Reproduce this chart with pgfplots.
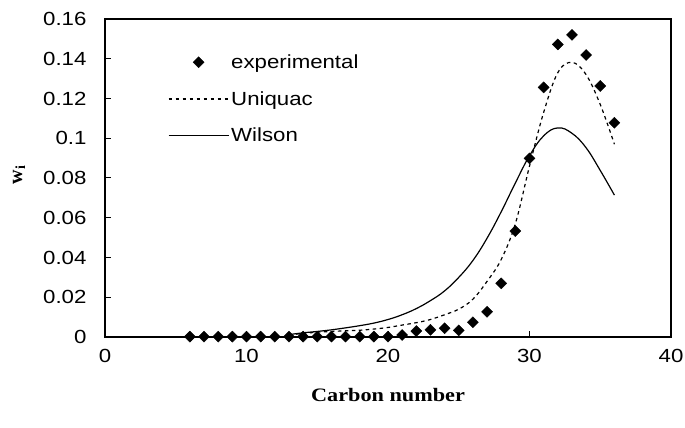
\documentclass[border=0pt]{standalone}
\usepackage{fontspec}
\setmainfont{Liberation Sans}[FakeStretch=1.17]
\newfontfamily\serifwide{Liberation Serif}[FakeStretch=1.17]
\newfontfamily\serifbf{Liberation Serif}
\usepackage{pgfplots}
\pgfplotsset{compat=1.18}
\pgfplotsset{
  lineleg/.style={legend image code/.code={\draw[##1] (0pt,0pt) -- (60pt,0pt);}},
  markleg/.style={legend image code/.code={%
    \draw[mark repeat=2, mark phase=2, ##1] plot coordinates {(0pt,0pt) (30pt,0pt) (60pt,0pt)};}},
}

\begin{document}
\begin{tikzpicture}
\begin{axis}[
  at={(0pt,0pt)}, anchor=origin,
  scale only axis,
  width=566pt, height=318pt,
  xmin=0, xmax=40, ymin=0, ymax=0.16,
  xtick={0,10,20,30,40},
  ytick={0,0.02,0.04,0.06,0.08,0.1,0.12,0.14,0.16},
  scaled y ticks=false,
  yticklabel style={/pgf/number format/fixed, /pgf/number format/precision=2, xshift=-15pt},
  xticklabel style={yshift=-9pt},
  /pgf/number format/assume math mode=true,
  tick label style={font=\fontsize{19}{22}\selectfont},
  tick align=inside,
  xtick pos=left, ytick pos=left,
  major tick length=6pt,
  axis line style={line width=1.1pt},
  tick style={line width=1pt, black},
  xlabel={Carbon number},
  ylabel={w\textsubscript{i}},
  xlabel style={at={(axis description cs:0.5,-0.182)}, anchor=center,
    font=\serifwide\bfseries\fontsize{19}{22}\selectfont},
  ylabel style={at={(axis description cs:-0.152,0.51)}, anchor=center,
    font=\serifbf\bfseries\fontsize{20}{22}\selectfont},
  legend style={draw=none, fill=none, at={(rel axis cs:0.111,0.895)}, anchor=north west,
    font=\fontsize{19}{22}\selectfont, row sep=17.5pt, inner sep=0pt,
    nodes={inner sep=2pt}},
  legend cell align=left,
]
% measured mass fractions
\addplot[only marks, mark=square*, mark size=3.9pt, mark options={rotate=45, fill=black}, markleg]
coordinates {
 (6,0.0002) (7,0.0002) (8,0.0002) (9,0.0002) (10,0.0002) (11,0.0002) (12,0.0002)
 (13,0.0002) (14,0.0002) (15,0.0002) (16,0.0002) (17,0.0002) (18,0.0002) (19,0.0002)
 (20,0.0002) (21,0.0010) (22,0.0030) (23,0.0036) (24,0.0044) (25,0.0033)
 (26,0.0074) (27,0.0127) (28,0.0270) (29,0.0533) (30,0.0899) (31,0.1256)
 (32,0.1472) (33,0.1520) (34,0.1419) (35,0.1263) (36,0.1078)
};
\addlegendentry{experimental}
% UNIQUAC model
\addplot[black, line width=1.2pt, dash pattern=on 3.5pt off 3.5pt, smooth, tension=0.6, lineleg]
coordinates {
 (13,0.0010) (14,0.0018) (15,0.0024) (16,0.0028) (17,0.0031) (18,0.0034)
 (19,0.0040) (20,0.0048) (21,0.0060) (22,0.0072) (23,0.0088) (24,0.0112)
 (25,0.0140) (26,0.0190) (27,0.0280) (28,0.0390) (29,0.0570) (30,0.0860)
 (31,0.1130) (32,0.1330) (33,0.1382) (34,0.1320) (35,0.1170) (36,0.0970)
};
\addlegendentry{Uniquac}
% Wilson model
\addplot[black, line width=1.2pt, smooth, tension=0.7, lineleg]
coordinates {
 (13,0.0012) (14,0.0021) (15,0.0028) (16,0.0036) (17,0.0046) (18,0.0057)
 (19,0.0070) (20,0.0088) (21,0.0112) (22,0.0143) (23,0.0183) (24,0.0232)
 (25,0.0300) (26,0.0385) (27,0.0497) (28,0.0630) (29,0.0775) (30,0.0912)
 (31,0.1012) (32,0.1052) (33,0.1025) (34,0.0952) (35,0.0838) (36,0.0714)
};
\addlegendentry{Wilson}
\end{axis}
\pgfresetboundingbox
\path[use as bounding box] (-105pt,-91pt) rectangle (580pt,337pt);
\end{tikzpicture}
\end{document}
